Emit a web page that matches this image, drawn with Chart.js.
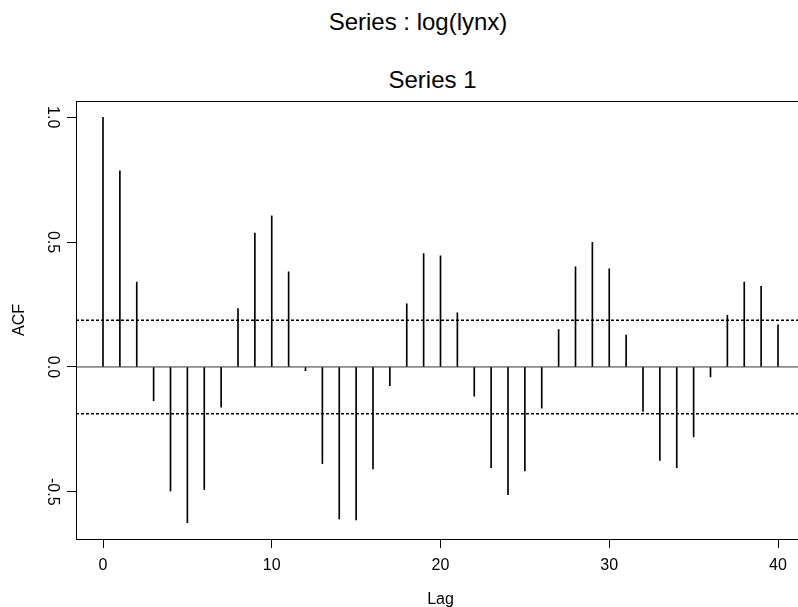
<!DOCTYPE html>
<html>
<head>
<meta charset="utf-8">
<script src="https://cdn.jsdelivr.net/npm/chart.js@4.4.1/dist/chart.umd.min.js"></script>
<style>
  html, body { margin: 0; padding: 0; background: #fff; overflow: hidden; }
  #wrap { position: relative; width: 798px; height: 607px; overflow: hidden; }
  .ttl {
    position: absolute; left: 0; text-align: center;
    font-family: "Liberation Sans", Arial, sans-serif;
    font-size: 24px; line-height: 28.8px; color: #000; white-space: nowrap;
  }
  #acf { position: absolute; left: 0; top: 0; }
</style>
</head>
<body>
<div id="wrap">
  <div class="ttl" style="top:8px; width:836px;">Series : log(lynx)</div>
  <div class="ttl" style="top:66px; width:865px;">Series 1</div>
  <canvas id="acf" width="805" height="607"></canvas>
</div>
<script>
// ==================== Data ====================
const lags = [0, 1, 2, 3, 4, 5, 6, 7, 8, 9, 10, 11, 12, 13, 14, 15, 16, 17, 18, 19, 20,
              21, 22, 23, 24, 25, 26, 27, 28, 29, 30, 31, 32, 33, 34, 35, 36, 37, 38, 39, 40];
const acfValues = [1.000, 0.785, 0.340, -0.135, -0.497, -0.624, -0.491, -0.161, 0.234, 0.536, 0.605,
                   0.381, -0.015, -0.387, -0.609, -0.613, -0.408, -0.075, 0.253, 0.454, 0.445,
                   0.217, -0.117, -0.403, -0.511, -0.416, -0.165, 0.150, 0.401, 0.499, 0.393,
                   0.128, -0.178, -0.374, -0.404, -0.280, -0.040, 0.207, 0.340, 0.323, 0.169];
const confBound = 0.187;
const xTicks = [0, 10, 20, 30, 40];
const yTicks = [-0.5, 0.0, 0.5, 1.0];
const xRange = [-1.6, 41.6];
const yRange = [-0.689, 1.065];

const FONT = "'Liberation Sans', Arial, Helvetica, sans-serif";

// box round the plot region
const framePlugin = {
    id: "frame",
    afterDraw(chart) {
        const { ctx, chartArea: a } = chart;
        ctx.save();
        ctx.strokeStyle = "#000";
        ctx.lineWidth = 1;
        ctx.strokeRect(Math.round(a.left) + 0.5, Math.round(a.top) + 0.5,
                       Math.round(a.right - a.left), Math.round(a.bottom - a.top));
        ctx.restore();
    }
};

const hLine = (y) => [{ x: xRange[0], y: y }, { x: xRange[1], y: y }];

new Chart(document.getElementById("acf"), {
    type: "bar",
    data: {
        datasets: [
            {
                type: "line",
                data: hLine(0),
                borderColor: "#333",
                borderWidth: 1,
                pointRadius: 0
            },
            {
                type: "line",
                data: hLine(confBound),
                borderColor: "#000",
                borderWidth: 1.5,
                borderDash: [3, 2],
                pointRadius: 0
            },
            {
                type: "line",
                data: hLine(-confBound),
                borderColor: "#000",
                borderWidth: 1.5,
                borderDash: [3, 2],
                pointRadius: 0
            },
            {
                type: "bar",
                data: lags.map((l, i) => ({ x: l, y: acfValues[i] })),
                backgroundColor: "#000",
                borderWidth: 0,
                barThickness: 1
            }
        ]
    },
    options: {
        responsive: false,
        animation: false,
        layout: { padding: { top: 101, left: 0, right: 0, bottom: 0 } },
        plugins: {
            legend: { display: false },
            tooltip: { enabled: false },
            title: { display: false }
        },
        scales: {
            x: {
                type: "linear",
                min: xRange[0],
                max: xRange[1],
                offset: false,
                afterBuildTicks: (axis) => { axis.ticks = xTicks.map(v => ({ value: v })); },
                afterFit: (axis) => { axis.height = 68; },
                grid: { offset: false, drawOnChartArea: false, drawTicks: true, tickLength: 9, color: "#000" },
                border: { display: true, color: "#000" },
                ticks: {
                    color: "#000",
                    padding: 8,
                    maxRotation: 0,
                    font: { family: FONT, size: 16 },
                    callback: (v) => String(v)
                },
                title: {
                    display: true,
                    text: "Lag",
                    color: "#000",
                    font: { family: FONT, size: 16 },
                    padding: { top: 0, bottom: -1.8 }
                }
            },
            y: {
                type: "linear",
                min: yRange[0],
                max: yRange[1],
                afterBuildTicks: (axis) => { axis.ticks = yTicks.map(v => ({ value: v })); },
                afterFit: (axis) => { axis.width = 76; },
                grid: { drawOnChartArea: false, drawTicks: true, tickLength: 9, color: "#000" },
                border: { display: true, color: "#000" },
                ticks: {
                    color: "#000",
                    padding: 1,
                    minRotation: -90,
                    maxRotation: -90,
                    crossAlign: "center",
                    font: { family: FONT, size: 16 },
                    callback: (v) => v.toFixed(1)
                },
                title: {
                    display: true,
                    text: "ACF",
                    color: "#000",
                    font: { family: FONT, size: 16 },
                    padding: { top: 9.6, bottom: 0 }
                }
            }
        }
    },
    plugins: [framePlugin]
});
</script>
</body>
</html>
